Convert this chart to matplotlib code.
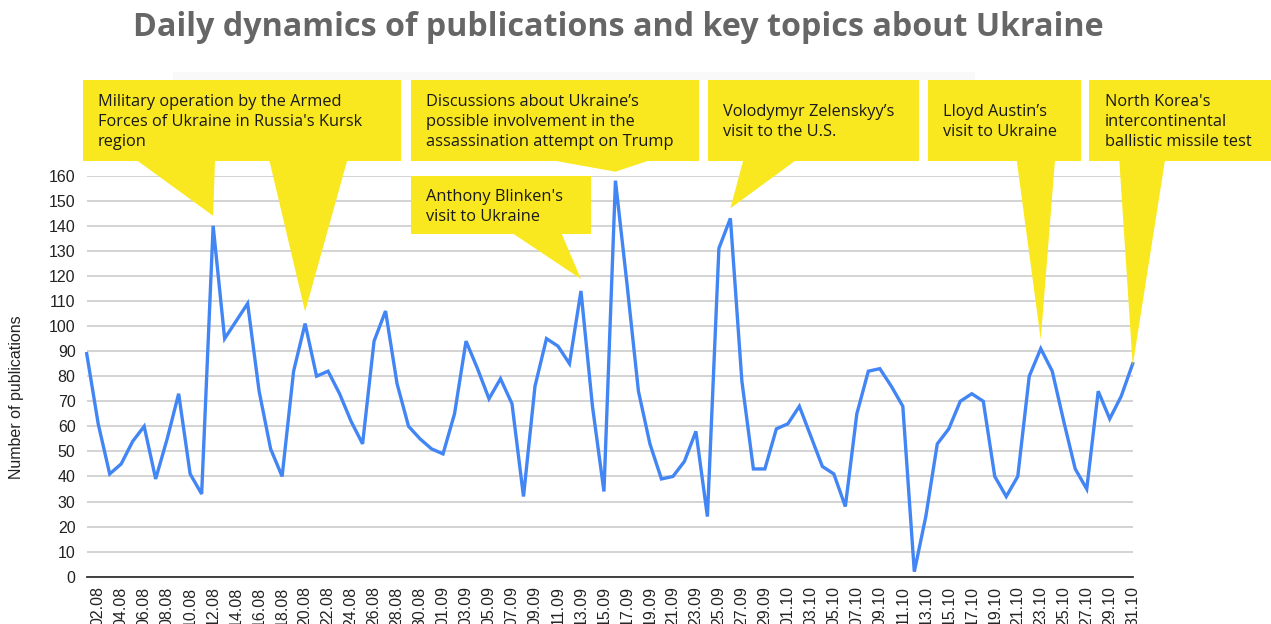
import matplotlib
matplotlib.use("Agg")
import matplotlib.pyplot as plt
from matplotlib.patches import Polygon, Rectangle
import pandas as pd

# Daily publication counts, 1 Aug - 31 Oct 2024
dates = pd.date_range("2024-08-01", "2024-10-31", freq="D").strftime("%d.%m").tolist()
publications = [
    89, 61, 41, 45, 54, 60, 39, 55, 73, 41, 33, 140, 95, 102, 109, 74, 51, 40, 82, 101,
    80, 82, 73, 62, 53, 94, 106, 77, 60, 55, 51, 49, 65, 94, 83, 71, 79, 69, 32, 76,
    95, 92, 85, 114, 68, 34, 158, 117, 74, 53, 39, 40, 46, 58, 24, 131, 143, 78, 43, 43,
    59, 61, 68, 56, 44, 41, 28, 65, 82, 83, 76, 68, 2, 24, 53, 59, 70, 73, 70, 40,
    32, 40, 80, 91, 82, 62, 43, 35, 74, 63, 72, 85,
]
y_ticks = list(range(0, 161, 10))

# Key events: text lines and the date each one points at
events = [
    (["Military operation by the Armed", "Forces of Ukraine in Russia's Kursk", "region"], ["12.08", "20.08"]),
    (["Discussions about Ukraine\u2019s", "possible involvement in the", "assassination attempt on Trump"], ["16.09"]),
    (["Anthony Blinken's", "visit to Ukraine"], ["13.09"]),
    (["Volodymyr Zelenskyy\u2019s", "visit to the U.S."], ["26.09"]),
    (["Lloyd Austin\u2019s", "visit to Ukraine"], ["23.10"]),
    (["North Korea's", "intercontinental", "ballistic missile test"], ["31.10"]),
]

W, H = 1271, 624
YELLOW = "#F9E81F"
BLUE = "#4285F4"

fig = plt.figure(figsize=(W / 100, H / 100), dpi=100)


def fx(x):
    return x / W


def fy(y):
    return 1 - y / H


# plot area
ax = fig.add_axes([fx(86.7), fy(576.7), fx(1132.7) - fx(86.7), (576.7 - 175.7) / H])
x = list(range(len(publications)))
ax.plot(x, publications, color=BLUE, lw=2.4, solid_joinstyle="miter", zorder=3, clip_on=False)
ax.set_xlim(0, len(publications) - 1)
ax.set_ylim(0, 160)
ax.set_yticks(y_ticks)
ax.set_yticklabels([str(v) for v in y_ticks], fontfamily="Liberation Sans", fontsize=11.5, color="#222222")
ax.set_xticks(x[1::2])
ax.set_xticklabels(dates[1::2], rotation=90, fontfamily="Liberation Sans", fontsize=11.5,
                   color="#222222", va="top", ha="center")
ax.tick_params(axis="both", length=0)
ax.tick_params(axis="y", pad=8)
ax.tick_params(axis="x", pad=7)
ax.grid(axis="y", color="#cccccc", lw=1.2, zorder=0)
ax.set_axisbelow(True)
for side in ["left", "right", "top"]:
    ax.spines[side].set_visible(False)
ax.spines["bottom"].set_color("#333333")
ax.spines["bottom"].set_linewidth(1.3)
ax.spines["bottom"].set_zorder(4)

fig.text(fx(17), fy(397), "Number of publications", rotation=90, ha="center", va="center",
         fontfamily="Liberation Sans", fontsize=11.5, color="#222222")

fig.text(fx(618), fy(28), "Daily dynamics of publications and key topics about Ukraine",
         ha="center", va="center", fontfamily="Open Sans", fontweight="bold",
         fontsize=23.2, color="#666666")

# faint band behind the callouts
fig.patches.append(Rectangle((fx(173), fy(80)), fx(975) - fx(173), (80 - 72) / H,
                             transform=fig.transFigure, facecolor="#f9f9f9",
                             edgecolor="none", zorder=1))

# callout boxes (left, top, right, bottom) in pixels, text origin, pointer bases
boxes = [
    ((83, 80, 401, 160.7), 98, [(136.7, 215), (269.3, 347.3)], [10, 12]),
    ((410.7, 80, 699, 160.7), 425.7, [(551.7, 650)], [9]),
    ((410.7, 176, 591, 234.3), 425.7, [(513.3, 561.7)], [12]),
    ((708.3, 80, 919.3, 160.7), 723.3, [(743.3, 796)], [10]),
    ((928.3, 80, 1080.7, 160.7), 942.7, [(1016.7, 1055)], [9]),
    ((1089.3, 80, 1275, 160.7), 1105, [(1119.3, 1165)], [-2]),
]

fig.canvas.draw()
to_fig = fig.transFigure.inverted()

for (lines, targets), (box, tx, bases, offsets) in zip(events, boxes):
    x0, y0, x1, y1 = box
    fig.patches.append(Rectangle((fx(x0), fy(y1)), fx(x1) - fx(x0), (y1 - y0) / H,
                                 transform=fig.transFigure, facecolor=YELLOW,
                                 edgecolor="none", zorder=2))
    for target, (bl, br), off in zip(targets, bases, offsets):
        i = dates.index(target)
        dx, dy = ax.transData.transform((i, publications[i]))
        tip = to_fig.transform((dx, dy + off))
        fig.patches.append(Polygon([(fx(bl), fy(y1) + 0.5 / H), (fx(br), fy(y1) + 0.5 / H), tuple(tip)],
                                   closed=True, transform=fig.transFigure,
                                   facecolor=YELLOW, edgecolor="none", zorder=2))
    n = len(lines)
    centre = (y0 + y1) / 2
    first = centre - (n - 1) * 10
    for k, line in enumerate(lines):
        fig.text(fx(tx), fy(first + 20 * k + 5.9), line, ha="left", va="baseline",
                 fontfamily="Open Sans", fontsize=11.8, color="#1a1a1a", zorder=5)

fig.savefig("out.png", dpi=100)
